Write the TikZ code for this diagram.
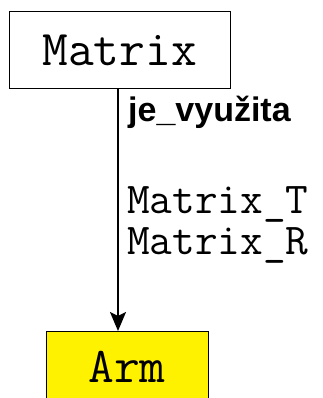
\documentclass[tikz,border=0pt]{standalone}
\usepackage{fontspec}
\setmainfont{Liberation Sans}
\usetikzlibrary{arrows.meta}
\begin{document}
\begin{tikzpicture}[x=1pt,y=-1pt,
  classbox/.style={draw=black,line width=1pt,inner sep=0pt,
    font=\ttfamily\fontsize{50}{50}\selectfont},
  roletext/.style={anchor=base west,inner sep=0pt,
    font=\bfseries\fontsize{34}{34}\selectfont},
  endtext/.style={anchor=base west,inner sep=0pt,
    font=\ttfamily\fontsize{44}{44}\selectfont},
  link/.style={line width=2pt,-{Stealth[length=19pt,width=16pt,inset=4pt]}}]
\useasboundingbox (0,0) rectangle (323,398);
\node[classbox,fill=white,minimum width=221pt,minimum height=77pt]
  (matrix) at (119.5,50.5) {Matrix};
\node[classbox,fill=yellow,minimum width=162pt,minimum height=71pt]
  (arm) at (127,367) {Arm};
\draw[link] ([xshift=-1.5pt]matrix.south) -- ([xshift=-1.5pt]matrix.south |- arm.north);
\node[roletext] (role) at (128,122) {je\_využita};
\node[endtext] (endT) at (127,213) {Matrix\_T};
\node[endtext] (endR) at (127,254) {Matrix\_R};
\end{tikzpicture}
\end{document}
